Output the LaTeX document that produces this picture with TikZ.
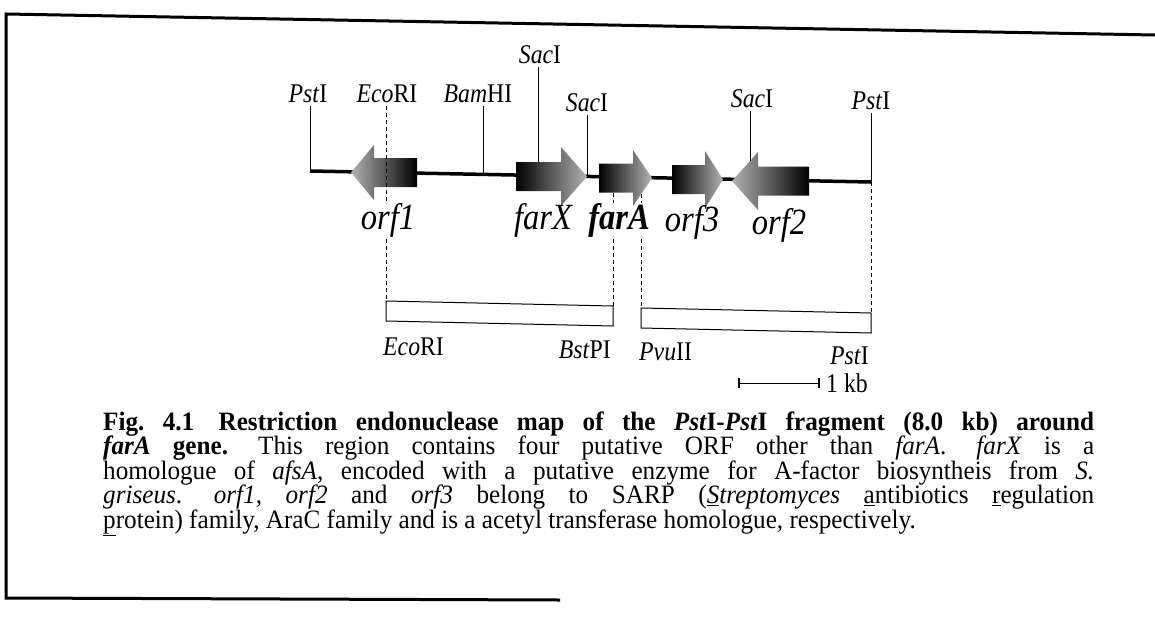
\documentclass[tikz,border=0pt]{standalone}
\usepackage{fontspec}
\setmainfont[FakeStretch=0.88]{Liberation Serif}
\newfontfamily\capfont[FakeStretch=0.95]{Liberation Serif}
\frenchspacing
\begin{document}
\begin{tikzpicture}[x=1pt,y=-1pt,
  site/.style={font=\fontsize{27}{27}\selectfont, anchor=base, inner sep=0pt},
  gene/.style={font=\fontsize{37}{37}\selectfont\itshape, anchor=base, inner sep=0pt},
  cutline/.style={line width=1pt},
  dashline/.style={line width=0.8pt, dash pattern=on 4pt off 3pt},
  framel/.style={line width=3pt},
  backbone/.style={line width=3.5pt},
  fwdgene/.style={left color=black, middle color=black!72, right color=black!30},
  revgene/.style={left color=black!30, middle color=black!72, right color=black},
  fragbox/.style={line width=1pt},
  captxt/.style={font=\capfont\fontsize{26.5}{24.5}\selectfont\frenchspacing, anchor=base west, inner sep=0pt}
]
\useasboundingbox (0,0) rectangle (1155,637);

% frame
\coordinate (fTL) at (6,14);
\coordinate (fTR) at (1155,35);
\coordinate (fBL) at (6,598);
\coordinate (fBR) at (560,600);
\draw[framel] (fTR) -- (fTL) -- (fBL) -- (fBR);

% backbone
\coordinate (bbL) at (310,171);
\coordinate (bbR) at (871,182);
\coordinate (bbBam) at (483,174.4);
\draw[backbone] (bbL) -- (bbR);

% genes
\shade[revgene] (351,172.5) -- (374,145) -- (374,158) -- (417,158) -- (417,187) -- (374,187) -- (374,200) -- cycle;
\shade[fwdgene] (516,162) -- (561,162) -- (561,147) -- (587,176.5) -- (561,206) -- (561,191) -- (516,191) -- cycle;
\shade[fwdgene] (599,163.5) -- (633,163.5) -- (633,150) -- (652,178) -- (633,206) -- (633,192.5) -- (599,192.5) -- cycle;
\shade[fwdgene] (672,165) -- (705,165) -- (705,151) -- (723,179.5) -- (705,208) -- (705,194) -- (672,194) -- cycle;
\shade[revgene] (732,181) -- (758,152) -- (758,166.5) -- (809,166.5) -- (809,195.5) -- (758,195.5) -- (758,210) -- cycle;
\coordinate (farXtop) at (538,162);
\coordinate (farXtip) at (587,176.5);
\coordinate (orf2edge) at (750,160.9);
\coordinate (fa1) at (613,192.5);
\coordinate (fa2) at (641,194);

% site labels
\node[site] (pstL) at (308,102) {\textit{Pst}I};
\node[site] (eco) at (387,102) {\textit{Eco}RI};
\node[site] (bam) at (478,102) {\textit{Bam}HI};
\node[site] (sacA) at (540,63) {\textit{Sac}I};
\node[site] (sacB) at (587,111) {\textit{Sac}I};
\node[site] (sacC) at (752,107) {\textit{Sac}I};
\node[site] (pstR) at (871,109) {\textit{Pst}I};

% gene labels
\node[gene] (orfA) at (388,229) {orf1};
\node[gene] (farX) at (543,229) {farX};
\node[gene] (farA) at (619,229) {\bfseries farA};
\node[gene] (orfC) at (692,231) {orf3};
\node[gene] (orfB) at (779,234) {orf2};

% fragment boxes
\coordinate (boxLtl) at (386,301);
\coordinate (boxLtr) at (613,306);
\coordinate (boxLbr) at (613,326);
\coordinate (boxLbl) at (386,321);
\coordinate (boxRtl) at (641,308);
\coordinate (boxRtr) at (871,313);
\coordinate (boxRbr) at (871,333);
\coordinate (boxRbl) at (641,328);
\draw[fragbox] (boxLtl) -- (boxLtr) -- (boxLbr) -- (boxLbl) -- cycle;
\draw[fragbox] (boxRtl) -- (boxRtr) -- (boxRbr) -- (boxRbl) -- cycle;

% site lines
\draw[cutline] (pstL.south -| bbL) ++(0,4) -- (bbL);
\draw[cutline] (bam.south -| bbBam) ++(0,4) -- (bbBam);
\draw[cutline] (sacA.south -| farXtop) ++(0,4) -- (farXtop);
\draw[cutline] (sacB.south -| farXtip) ++(0,4) -- (farXtip);
\draw[cutline] (sacC.south -| orf2edge) ++(0,4) -- (orf2edge);
\draw[cutline] (pstR.south -| bbR) ++(0,4) -- (bbR);
\draw[dashline] (bbR) -- (boxRtr);
\draw[dashline] (eco.south -| boxLtl) ++(0,4) -- (orfA.north -| boxLtl);
\draw[dashline] (orfA.south -| boxLtl) ++(0,2) -- (boxLtl);
\draw[dashline] (fa1) -- (fa1 |- farA.north);
\draw[dashline] (fa1 |- farA.south) ++(0,2) -- (boxLtr);
\draw[dashline] (fa2) -- (fa2 |- farA.north);
\draw[dashline] (fa2 |- farA.south) ++(0,2) -- (boxRtl);

% box labels
\node[site, anchor=base west] (ecoB) at (383,355) {\textit{Eco}RI};
\node[site, anchor=base east] (bst) at (611,358) {\textit{Bst}PI};
\node[site, anchor=base west] (pvu) at (639,360) {\textit{Pvu}II};
\node[site, anchor=base east] (pstB) at (869,364) {\textit{Pst}I};

% scale bar
\coordinate (sbL) at (739,383);
\coordinate (sbR) at (819,383);
\draw[line width=1pt] (sbL) -- (sbR);
\draw[line width=1.5pt] (sbL) ++(0,-5) -- ++(0,10);
\draw[line width=1.5pt] (sbR) ++(0,-5) -- ++(0,10);
\node[site, anchor=west] (kb) at (826,383) {1 kb};

% caption
\node[captxt] (c1) at (103,430) {\makebox[991pt][s]{\bfseries Fig. 4.1\hspace{6pt} Restriction endonuclease map of the \textit{Pst}I-\textit{Pst}I fragment (8.0 kb) around}};
\node[captxt] (c2) at (103,454.5) {\makebox[991pt][s]{\textbf{\textit{farA} gene.}\hspace{8pt} This region contains four putative ORF other than \textit{farA}.\hspace{8pt} \textit{farX} is a}};
\node[captxt] (c3) at (103,479) {\makebox[991pt][s]{homologue of \textit{afsA}, encoded with a putative enzyme for A-factor biosyntheis from \textit{S.}}};
\node[captxt] (c4) at (103,503.5) {\makebox[991pt][s]{\textit{griseus}.\hspace{8pt} \textit{orf1}, \textit{orf2} and \textit{orf3} belong to SARP (\textit{\underline{S}treptomyces} \underline{a}ntibiotics \underline{r}egulation}};
\node[captxt] (c5) at (103,528) {\underline{p}rotein) family, AraC family and is a acetyl transferase homologue, respectively.};
\end{tikzpicture}
\end{document}
